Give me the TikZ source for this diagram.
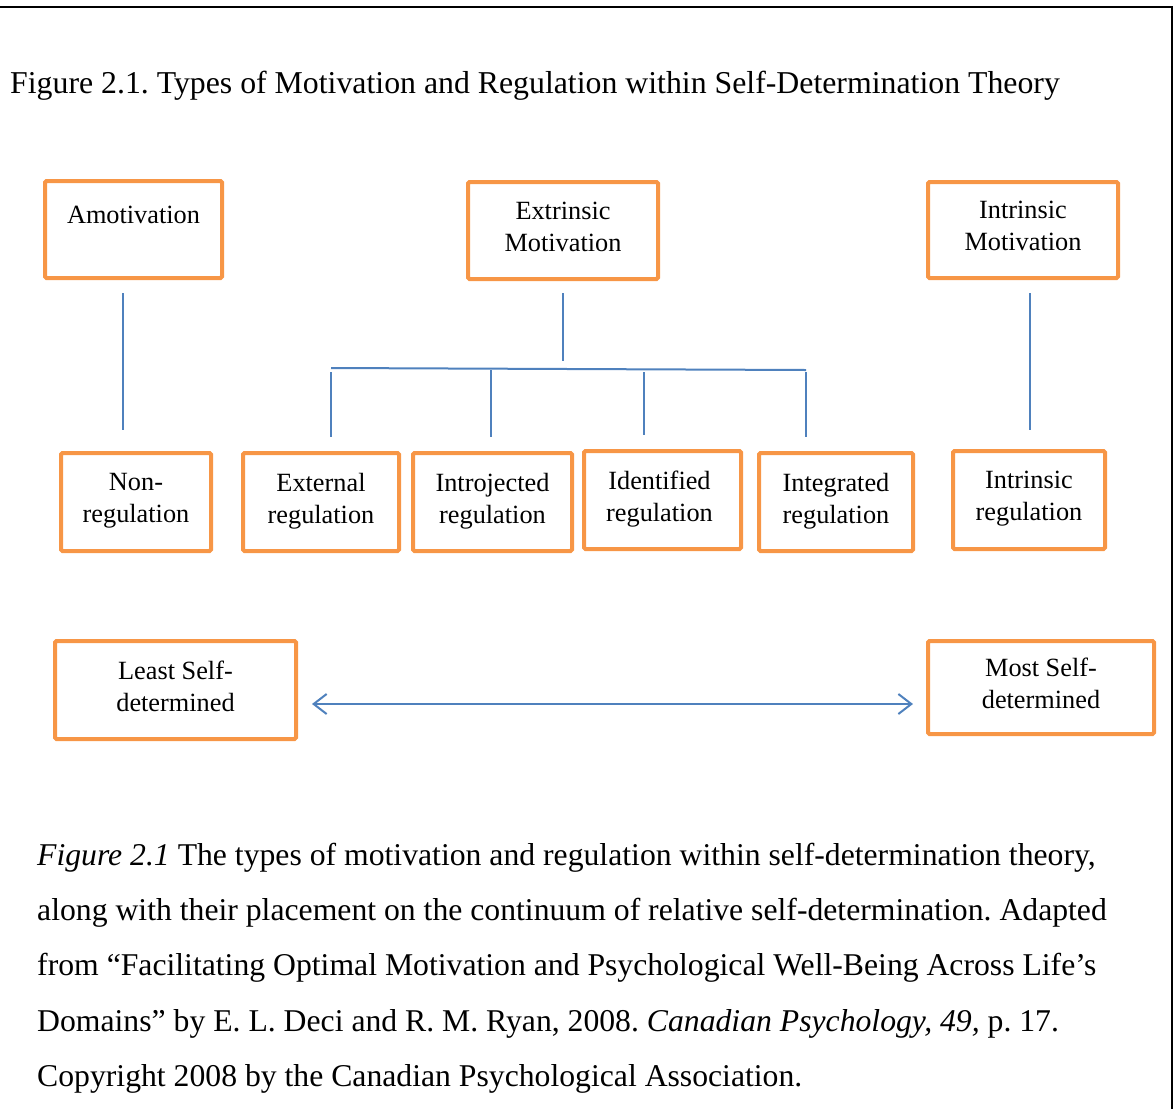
\documentclass[tikz,border=0pt]{standalone}
\usepackage{fontspec}
\setmainfont{Liberation Serif}
\frenchspacing
\usetikzlibrary{arrows.meta}
\definecolor{boxorange}{HTML}{F79646}
\definecolor{lineblue}{HTML}{4F81BD}
\tikzset{
  box/.style={draw=boxorange, line width=4pt, rounded corners=1.5pt, align=center,
    font=\fontsize{26.3}{32}\selectfont, text depth=8pt, inner sep=0pt},
  conn/.style={draw=lineblue, line width=2pt},
  titletext/.style={anchor=base west, inner sep=0pt, font=\fontsize{31.8}{38}\selectfont},
  captext/.style={anchor=base west, inner sep=0pt, font=\fontsize{31.7}{38}\selectfont},
}
\begin{document}
\begin{tikzpicture}[x=1pt,y=-1pt]
\useasboundingbox (0,0) rectangle (1176,1109);
% frame
\draw[line width=2.5pt] (0,7) -- (1172,7) -- (1172,1109);
% title
\node[titletext] (title) at (10,93) {Figure 2.1. Types of Motivation and Regulation within Self-Determination Theory};
% top boxes
\node[box, minimum width=177pt, minimum height=97pt, text depth=29pt] (amot) at (133.5,229.5) {Amotivation};
\node[box, minimum width=190pt, minimum height=97pt] (extr) at (563,230.5) {Extrinsic\\Motivation};
\node[box, minimum width=190pt, minimum height=96pt] (intr) at (1023,230) {Intrinsic\\Motivation};
% regulation boxes
\node[box, minimum width=150pt, minimum height=98pt] (nonreg) at (136,502) {Non-\\regulation};
\node[box, minimum width=156pt, minimum height=98pt] (ext) at (321,502) {External\\regulation};
\node[box, minimum width=159pt, minimum height=98pt] (intro) at (492.5,502) {Introjected\\regulation};
\node[box, minimum width=157pt, minimum height=98pt] (ident) at (662.5,500) {\hspace*{-6pt}Identified\\\hspace*{-6pt}regulation};
\node[box, minimum width=154pt, minimum height=98pt] (integ) at (836,502) {Integrated\\regulation};
\node[box, minimum width=152pt, minimum height=98pt] (intrreg) at (1029,500) {Intrinsic\\regulation};
% continuum boxes
\node[box, minimum width=241pt, minimum height=98pt] (least) at (175.5,690) {Least Self-\\determined};
\node[box, minimum width=226pt, minimum height=93pt] (most) at (1041,687.5) {Most Self-\\determined};
% connector end points
\coordinate (amotA) at (123,293);
\coordinate (amotB) at (123,430);
\coordinate (extrA) at (563,293);
\coordinate (extrB) at (563,361);
\coordinate (barL) at (331,368);
\coordinate (barR) at (806,370);
\coordinate (d1A) at (331,372); \coordinate (d1B) at (331,437);
\coordinate (d2A) at (491,370); \coordinate (d2B) at (491,437);
\coordinate (d3A) at (644,372); \coordinate (d3B) at (644,435);
\coordinate (d4A) at (806,372); \coordinate (d4B) at (806,437);
\coordinate (intrA) at (1030,293);
\coordinate (intrB) at (1030,430);
\coordinate (arrL) at (312,704);
\coordinate (arrR) at (913,704);
\draw[conn] (amotA) -- (amotB);
\draw[conn] (extrA) -- (extrB);
\draw[conn] (barL) -- (barR);
\draw[conn] (d1A) -- (d1B);
\draw[conn] (d2A) -- (d2B);
\draw[conn] (d3A) -- (d3B);
\draw[conn] (d4A) -- (d4B);
\draw[conn] (intrA) -- (intrB);
\draw[conn, {Straight Barb[length=13pt,width=20pt]}-{Straight Barb[length=13pt,width=20pt]}] (arrL) -- (arrR);
% caption
\node[captext] (cap1) at (37,865) {\textit{Figure 2.1} The types of motivation and regulation within self-determination theory,};
\node[captext] (cap2) at (37,920) {along with their placement on the continuum of relative self-determination. Adapted};
\node[captext] (cap3) at (37,975) {from “Facilitating Optimal Motivation and Psychological Well-Being Across Life’s};
\node[captext] (cap4) at (37,1031) {Domains” by E. L. Deci and R. M. Ryan, 2008. \textit{Canadian Psychology, 49,} p. 17.};
\node[captext] (cap5) at (37,1086) {Copyright 2008 by the Canadian Psychological Association.};
\end{tikzpicture}
\end{document}
